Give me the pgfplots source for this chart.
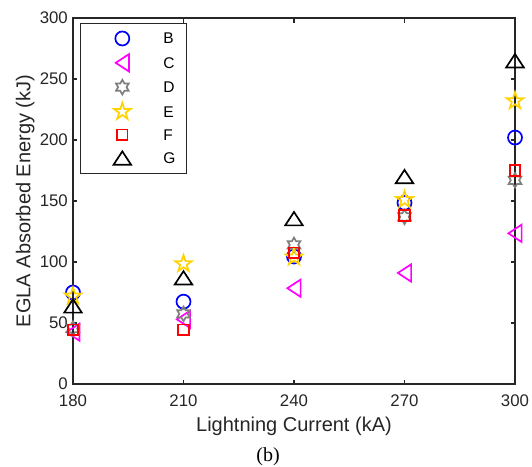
\documentclass[border=0pt]{standalone}
\usepackage{fontspec}
\setmainfont{Liberation Sans}
\newfontfamily\timesfont{Liberation Serif}
\usepackage{pgfplots}
\pgfplotsset{compat=1.18}
\definecolor{axisgray}{RGB}{38,38,38}
\definecolor{mgold}{RGB}{255,210,0}
\definecolor{mgray}{RGB}{128,128,128}
\definecolor{mmag}{RGB}{255,0,255}
\definecolor{mblue}{RGB}{0,0,255}
\definecolor{mred}{RGB}{255,0,0}
\pgfdeclareplotmark{ltri}{%
 \pgfpathmoveto{\pgfpoint{-\pgfplotmarksize}{0pt}}%
 \pgfpathlineto{\pgfpoint{\pgfplotmarksize}{1.31*\pgfplotmarksize}}%
 \pgfpathlineto{\pgfpoint{\pgfplotmarksize}{-1.31*\pgfplotmarksize}}%
 \pgfpathclose\pgfusepathqstroke}
\pgfdeclareplotmark{utri}{%
 \pgfpathmoveto{\pgfpoint{0pt}{\pgfplotmarksize}}%
 \pgfpathlineto{\pgfpoint{-1.31*\pgfplotmarksize}{-\pgfplotmarksize}}%
 \pgfpathlineto{\pgfpoint{1.31*\pgfplotmarksize}{-\pgfplotmarksize}}%
 \pgfpathclose\pgfusepathqstroke}
\pgfdeclareplotmark{sq}{%
 \pgfpathmoveto{\pgfpoint{-\pgfplotmarksize}{-\pgfplotmarksize}}%
 \pgfpathlineto{\pgfpoint{\pgfplotmarksize}{-\pgfplotmarksize}}%
 \pgfpathlineto{\pgfpoint{\pgfplotmarksize}{\pgfplotmarksize}}%
 \pgfpathlineto{\pgfpoint{-\pgfplotmarksize}{\pgfplotmarksize}}%
 \pgfpathclose\pgfusepathqstroke}
\pgfdeclareplotmark{hexa}{%
 \pgfpathmoveto{\pgfpointpolar{90}{\pgfplotmarksize}}%
 \pgfpathlineto{\pgfpointpolar{120}{0.577*\pgfplotmarksize}}%
 \pgfpathlineto{\pgfpointpolar{150}{\pgfplotmarksize}}%
 \pgfpathlineto{\pgfpointpolar{180}{0.577*\pgfplotmarksize}}%
 \pgfpathlineto{\pgfpointpolar{210}{\pgfplotmarksize}}%
 \pgfpathlineto{\pgfpointpolar{240}{0.577*\pgfplotmarksize}}%
 \pgfpathlineto{\pgfpointpolar{270}{\pgfplotmarksize}}%
 \pgfpathlineto{\pgfpointpolar{300}{0.577*\pgfplotmarksize}}%
 \pgfpathlineto{\pgfpointpolar{330}{\pgfplotmarksize}}%
 \pgfpathlineto{\pgfpointpolar{0}{0.577*\pgfplotmarksize}}%
 \pgfpathlineto{\pgfpointpolar{30}{\pgfplotmarksize}}%
 \pgfpathlineto{\pgfpointpolar{60}{0.577*\pgfplotmarksize}}%
 \pgfpathclose\pgfusepathqstroke}
\pgfdeclareplotmark{penta}{%
 \pgfpathmoveto{\pgfpointpolar{90}{\pgfplotmarksize}}%
 \pgfpathlineto{\pgfpointpolar{126}{0.382*\pgfplotmarksize}}%
 \pgfpathlineto{\pgfpointpolar{162}{\pgfplotmarksize}}%
 \pgfpathlineto{\pgfpointpolar{198}{0.382*\pgfplotmarksize}}%
 \pgfpathlineto{\pgfpointpolar{234}{\pgfplotmarksize}}%
 \pgfpathlineto{\pgfpointpolar{270}{0.382*\pgfplotmarksize}}%
 \pgfpathlineto{\pgfpointpolar{306}{\pgfplotmarksize}}%
 \pgfpathlineto{\pgfpointpolar{342}{0.382*\pgfplotmarksize}}%
 \pgfpathlineto{\pgfpointpolar{18}{\pgfplotmarksize}}%
 \pgfpathlineto{\pgfpointpolar{54}{0.382*\pgfplotmarksize}}%
 \pgfpathclose\pgfusepathqstroke}
\begin{document}
\begin{tikzpicture}
\useasboundingbox (-73pt,-82pt) rectangle (459pt,384pt);
\begin{axis}[
  at={(0pt,0pt)}, anchor=south west,
  scale only axis, width=442pt, height=366pt,
  xmin=180, xmax=300, ymin=0, ymax=300,
  xtick={180,210,240,270,300}, ytick={0,50,100,150,200,250,300},
  tick align=inside, major tick length=4.5pt,
  axis line style={draw=axisgray, line width=1.1pt},
  every tick/.style={draw=axisgray, line width=1.1pt},
  /pgf/number format/assume math mode=true,
  tick label style={font=\fontsize{16.8}{18}\selectfont, text=axisgray},
  xticklabel style={inner sep=0pt, anchor=north, yshift=-11pt},
  yticklabel style={inner sep=0pt, anchor=east, xshift=-5pt},
  xlabel={Lightning Current (kA)},
  ylabel={EGLA Absorbed Energy (kJ)},
  label style={font=\fontsize{20}{22}\selectfont, text=axisgray},
  xlabel style={at={(axis description cs:0.5,-0.131)}, anchor=base, inner sep=0pt},
  ylabel style={at={(axis description cs:-0.108,0.5)}, anchor=center, rotate=0},
  clip=false,
  legend cell align=left,
  legend style={at={(axis description cs:0.0158,0.986)}, anchor=north west,
    draw=axisgray, line width=0.7pt, fill=white,
    inner xsep=11pt, inner ysep=7.5pt, row sep=8.2pt, column sep=21pt,
    font=\fontsize{15.5}{16}\selectfont,
    nodes={inner sep=0pt, text height=11pt, text depth=0pt, anchor=base west}},
  legend image code/.code={%
    \path[draw=none, fill=none] (-11pt,-2.1pt) rectangle (40pt,12.9pt);
    \draw[#1, line width=1.7pt, only marks] plot coordinates {(20pt,5.4pt)};},
  every axis plot/.append style={only marks, line width=1.7pt},
]
\addplot[mblue, mark=o, mark size=7pt] coordinates {(180,75) (210,67.5) (240,104.5) (270,148.5) (300,202)};
\addlegendentry{B}
\addplot[mmag, mark=ltri, mark size=6.6pt] coordinates {(180,42.5) (210,53) (240,78.5) (270,91) (300,123.5)};
\addlegendentry{C}
\addplot[mgray, mark=hexa, mark size=7.3pt] coordinates {(180,45.5) (210,57.5) (240,114) (270,137) (300,167)};
\addlegendentry{D}
\addplot[mgold, mark=penta, mark size=8.8pt] coordinates {(180,72) (210,98.5) (240,104) (270,151) (300,232)};
\addlegendentry{E}
\addplot[mred, mark=sq, mark size=5.3pt] coordinates {(180,44.5) (210,44.5) (240,107.5) (270,138) (300,175)};
\addlegendentry{F}
\addplot[black, mark=utri, mark size=6.7pt] coordinates {(180,64) (210,87) (240,135.5) (270,170) (300,265)};
\addlegendentry{G}
\end{axis}
\node[font=\timesfont\fontsize{20}{22}\selectfont, anchor=base] at (195pt,-77pt) {(b)};
\end{tikzpicture}
\end{document}
